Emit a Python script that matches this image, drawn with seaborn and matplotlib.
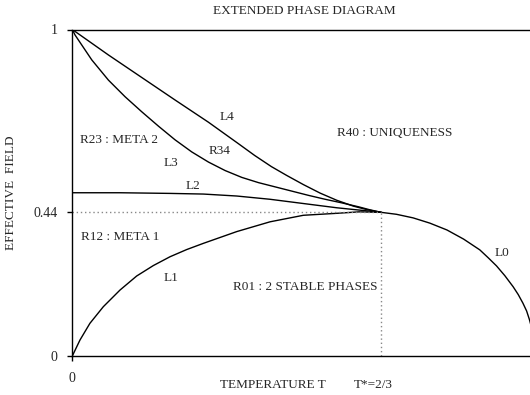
import matplotlib
matplotlib.use("Agg")
import matplotlib.pyplot as plt
import seaborn as sns
import pandas as pd

# ---- data ----
L0_T = [0.667, 0.700, 0.736, 0.772, 0.809, 0.845, 0.880, 0.898, 0.916, 0.934, 0.952,
        0.963, 0.973, 0.981, 0.987, 0.994, 1.0]
L0_H = [0.440, 0.434, 0.423, 0.407, 0.386, 0.358, 0.325, 0.301, 0.276, 0.246, 0.212,
        0.188, 0.162, 0.138, 0.112, 0.075, 0.0]

L1_T = [0.0, 0.0166, 0.038, 0.067, 0.103, 0.139, 0.175, 0.211, 0.247, 0.283, 0.355,
        0.427, 0.499, 0.571, 0.619, 0.667]
L1_H = [0.0, 0.049, 0.100, 0.151, 0.202, 0.245, 0.277, 0.304, 0.326, 0.345, 0.381,
        0.411, 0.431, 0.437, 0.4415, 0.440]

L2_T = [0.0, 0.103, 0.211, 0.283, 0.355, 0.427, 0.499, 0.571, 0.667]
L2_H = [0.500, 0.500, 0.498, 0.496, 0.490, 0.480, 0.467, 0.454, 0.440]

L3_T = [0.0, 0.006, 0.042, 0.078, 0.114, 0.150, 0.186, 0.222, 0.258, 0.294, 0.330,
        0.366, 0.402, 0.438, 0.474, 0.510, 0.546, 0.582, 0.618, 0.642, 0.667]
L3_H = [1.0, 0.983, 0.907, 0.845, 0.794, 0.748, 0.704, 0.662, 0.625, 0.594, 0.568,
        0.547, 0.531, 0.518, 0.505, 0.492, 0.480, 0.469, 0.457, 0.448, 0.440]

L4_T = [0.0, 0.078, 0.150, 0.222, 0.294, 0.358, 0.394, 0.430, 0.463, 0.499, 0.535,
        0.571, 0.607, 0.637, 0.667]
L4_H = [1.0, 0.922, 0.853, 0.784, 0.716, 0.651, 0.614, 0.580, 0.553, 0.525, 0.499,
        0.477, 0.459, 0.448, 0.440]

T_STAR = 2 / 3
H_STAR = 0.44

Y_TICKS = [0, 0.44, 1]
Y_TICK_LABELS = ["0", "0.44", "1"]
X_TICKS = [0]
X_TICK_LABELS = ["0"]

REGION_LABELS = ["L4", "R23 : META 2", "R34", "L3", "L2", "R40 : UNIQUENESS",
                 "R12 : META 1", "L1", "R01 : 2 STABLE PHASES", "L0"]
REGION_T = [0.333, 0.100, 0.319, 0.212, 0.261, 0.696, 0.103, 0.213, 0.503, 0.927]
REGION_H = [0.731, 0.662, 0.629, 0.590, 0.520, 0.682, 0.364, 0.239, 0.211, 0.315]

curves = {"L0": (L0_T, L0_H), "L1": (L1_T, L1_H), "L2": (L2_T, L2_H),
          "L3": (L3_T, L3_H), "L4": (L4_T, L4_H)}
rows = []
for name, (ts, hs) in curves.items():
    for i, (t, h) in enumerate(zip(ts, hs)):
        rows.append({"curve": name, "order": i, "T": t, "H": h})
df = pd.DataFrame(rows)

sns.set_theme(style="white")
plt.rcParams["font.family"] = ["Liberation Serif", "DejaVu Serif"]

fig = plt.figure(figsize=(5.3, 3.95), dpi=100)
ax = fig.add_axes([72.3 / 530, 39 / 395, 463.1 / 530, 326.5 / 395])

for name in curves:
    sub = df[df["curve"] == name]
    sns.lineplot(data=sub, x="T", y="H", sort=False, estimator=None,
                 color="black", linewidth=1.0, ax=ax)

ax.plot([0, T_STAR], [H_STAR, H_STAR], linestyle=(0, (1, 2)), color="#888888", linewidth=1.0)
ax.plot([T_STAR, T_STAR], [0, H_STAR], linestyle=(0, (1, 2)), color="#888888", linewidth=1.0)

ax.set_xlim(0, 1)
ax.set_ylim(0, 1)
ax.set_yticks(Y_TICKS)
ax.set_yticklabels(Y_TICK_LABELS, fontsize=10)
ax.set_xticks(X_TICKS)
ax.set_xticklabels(X_TICK_LABELS, fontsize=10)
ax.tick_params(axis="both", direction="out", length=3.6, width=1, color="black",
               left=True, bottom=True)
ax.tick_params(axis="y", pad=7)
ax.tick_params(axis="x", pad=8)
for side in ["left", "bottom", "top"]:
    ax.spines[side].set_color("black")
    ax.spines[side].set_linewidth(1.0)
ax.spines["right"].set_visible(False)
ax.set_xlabel("")
ax.set_ylabel("EFFECTIVE  FIELD", fontsize=9.5)
ax.yaxis.set_label_coords((17 - 72.3) / 463.1, 0.5)

for lab, t, h in zip(REGION_LABELS, REGION_T, REGION_H):
    ax.text(t, h, lab, ha="center", va="center", fontsize=9.5)

fig.text(304 / 530, 1 - 11 / 395, "EXTENDED PHASE DIAGRAM", ha="center", va="center", fontsize=9.5)
fig.text(273 / 530, 1 - 385 / 395, "TEMPERATURE T", ha="center", va="center", fontsize=9.5)
fig.text(373 / 530, 1 - 385 / 395, "T*=2/3", ha="center", va="center", fontsize=9.5)

fig.savefig("out.png", dpi=100)
